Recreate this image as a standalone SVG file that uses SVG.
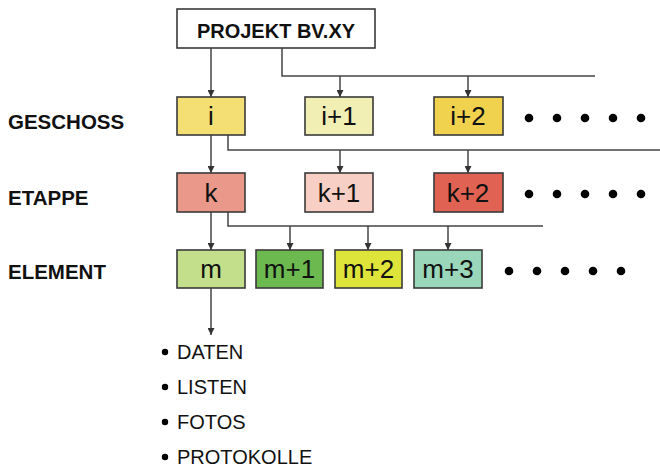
<svg xmlns="http://www.w3.org/2000/svg" width="660" height="468" viewBox="0 0 660 468">
<defs>
<marker id="ah" viewBox="0 0 10 10" refX="10" refY="5" markerWidth="7" markerHeight="7" markerUnits="userSpaceOnUse" orient="auto">
<path d="M0,0 L10,5 L0,10 Z" fill="#333"/>
</marker>
<style>
.box{stroke:#3a3a3a;stroke-width:1.6}
.lbl{font-family:"Liberation Sans",Arial,sans-serif;font-size:26px;fill:#111;text-anchor:middle}
.row{font-family:"Liberation Sans",Arial,sans-serif;font-size:20.5px;font-weight:bold;fill:#111}
.item{font-family:"Liberation Sans",Arial,sans-serif;font-size:20px;fill:#111}
.conn{fill:none;stroke:#444;stroke-width:1.5}
.dot{fill:#000}
</style>
</defs>
<rect width="660" height="468" fill="#fff"/>

<g id="connectors">
<line class="conn" x1="211" y1="48" x2="211" y2="97" marker-end="url(#ah)"/>
<polyline class="conn" points="282,48 282,76 595,76"/>
<line class="conn" x1="340" y1="76" x2="340" y2="97" marker-end="url(#ah)"/>
<line class="conn" x1="468" y1="76" x2="468" y2="97" marker-end="url(#ah)"/>
<line class="conn" x1="211" y1="135" x2="211" y2="173" marker-end="url(#ah)"/>
<polyline class="conn" points="228,135 228,150 660,150"/>
<line class="conn" x1="340" y1="150" x2="340" y2="173" marker-end="url(#ah)"/>
<line class="conn" x1="468" y1="150" x2="468" y2="173" marker-end="url(#ah)"/>
<line class="conn" x1="211" y1="212" x2="211" y2="250" marker-end="url(#ah)"/>
<polyline class="conn" points="228,212 228,226 543,226"/>
<line class="conn" x1="290" y1="226" x2="290" y2="250" marker-end="url(#ah)"/>
<line class="conn" x1="368" y1="226" x2="368" y2="250" marker-end="url(#ah)"/>
<line class="conn" x1="448" y1="226" x2="448" y2="250" marker-end="url(#ah)"/>
<line class="conn" x1="211" y1="288" x2="211" y2="335" marker-end="url(#ah)"/>
</g>

<g id="projekt">
<rect class="box" x="177" y="9" width="198" height="39" fill="#fff"/>
<text x="276" y="38" text-anchor="middle" style="font-family:'Liberation Sans',Arial,sans-serif;font-size:20px;font-weight:bold;fill:#111">PROJEKT BV.XY</text>
</g>

<g id="labels">
<text class="row" x="8" y="129">GESCHOSS</text>
<text class="row" x="8" y="205">ETAPPE</text>
<text class="row" x="8" y="279">ELEMENT</text>
</g>

<g id="geschoss-i"><rect class="box" x="177" y="97" width="68" height="38" fill="#f3df74"/><text class="lbl" x="211" y="125">i</text></g>
<g id="geschoss-i1"><rect class="box" x="305" y="97" width="68" height="38" fill="#f2efb4"/><text class="lbl" x="339" y="125">i+1</text></g>
<g id="geschoss-i2"><rect class="box" x="434" y="97" width="69" height="38" fill="#f0d24e"/><text class="lbl" x="468" y="125">i+2</text></g>
<g id="geschoss-dots">
<circle class="dot" cx="529" cy="118" r="4.3"/><circle class="dot" cx="557" cy="118" r="4.3"/><circle class="dot" cx="585" cy="118" r="4.3"/><circle class="dot" cx="613" cy="118" r="4.3"/><circle class="dot" cx="641" cy="118" r="4.3"/>
</g>

<g id="etappe-k"><rect class="box" x="177" y="173" width="68" height="39" fill="#e9988a"/><text class="lbl" x="211" y="202">k</text></g>
<g id="etappe-k1"><rect class="box" x="305" y="173" width="68" height="39" fill="#f8cfc4"/><text class="lbl" x="339" y="202">k+1</text></g>
<g id="etappe-k2"><rect class="box" x="434" y="173" width="69" height="39" fill="#e06252"/><text class="lbl" x="468" y="202">k+2</text></g>
<g id="etappe-dots">
<circle class="dot" cx="529" cy="194" r="4.3"/><circle class="dot" cx="557" cy="194" r="4.3"/><circle class="dot" cx="585" cy="194" r="4.3"/><circle class="dot" cx="613" cy="194" r="4.3"/><circle class="dot" cx="641" cy="194" r="4.3"/>
</g>

<g id="element-m"><rect class="box" x="177" y="250" width="68" height="38" fill="#c4df8c"/><text class="lbl" x="211" y="278">m</text></g>
<g id="element-m1"><rect class="box" x="256" y="250" width="67" height="38" fill="#6cb94f"/><text class="lbl" x="289.5" y="278">m+1</text></g>
<g id="element-m2"><rect class="box" x="335" y="250" width="67" height="38" fill="#dfe43a"/><text class="lbl" x="368.5" y="278">m+2</text></g>
<g id="element-m3"><rect class="box" x="414" y="250" width="68" height="38" fill="#9ad6ba"/><text class="lbl" x="448" y="278">m+3</text></g>
<g id="element-dots">
<circle class="dot" cx="509" cy="271" r="4.3"/><circle class="dot" cx="537" cy="271" r="4.3"/><circle class="dot" cx="565" cy="271" r="4.3"/><circle class="dot" cx="593" cy="271" r="4.3"/><circle class="dot" cx="621" cy="271" r="4.3"/>
</g>

<g id="list">
<circle class="dot" cx="165" cy="352" r="3.2"/><text class="item" x="177" y="359">DATEN</text>
<circle class="dot" cx="165" cy="387" r="3.2"/><text class="item" x="177" y="394">LISTEN</text>
<circle class="dot" cx="165" cy="422" r="3.2"/><text class="item" x="177" y="429">FOTOS</text>
<circle class="dot" cx="165" cy="457" r="3.2"/><text class="item" x="177" y="464">PROTOKOLLE</text>
</g>
</svg>
